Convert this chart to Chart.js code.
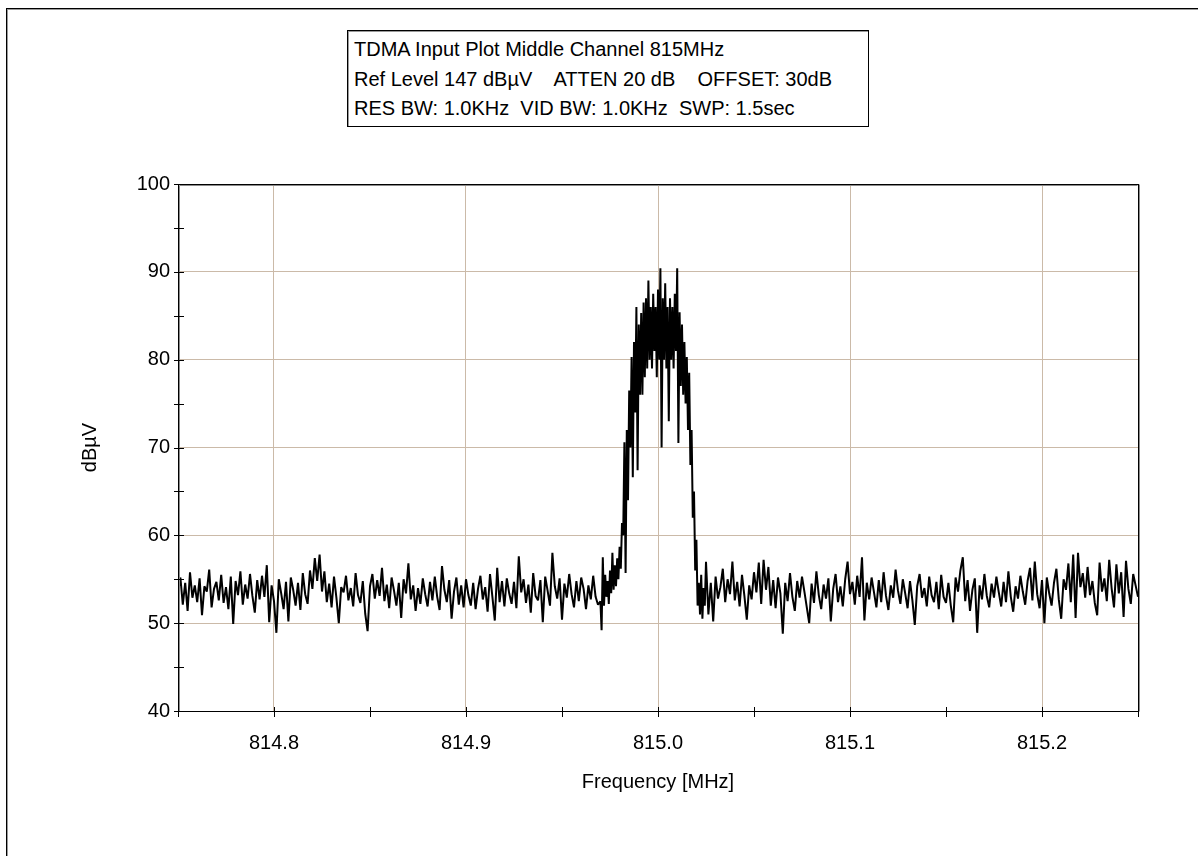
<!DOCTYPE html>
<html>
<head>
<meta charset="utf-8">
<script src="https://cdn.jsdelivr.net/npm/chart.js@4.4.0/dist/chart.umd.min.js"></script>
<style>
html,body{margin:0;padding:0;background:#fff;}
#wrap{position:relative;width:1198px;height:856px;overflow:hidden;background:#fff;}
#frame{position:absolute;left:6px;top:8px;right:-2px;bottom:-2px;border-left:1px solid #000;border-top:1px solid #000;}
#frame2{position:absolute;left:7px;top:9px;right:-2px;bottom:-2px;border-left:1px solid #9a9a9a;border-top:1px solid #9a9a9a;}
#chart{position:absolute;left:0;top:0;}
#info{position:absolute;left:347px;top:30px;width:522px;height:97px;box-sizing:border-box;border:1px solid #000;
  box-shadow:inset 1px 1px 0 #9a9a9a;
  font-family:'Liberation Sans',Arial,sans-serif;font-size:20px;line-height:29.5px;white-space:pre;color:#000;
  padding:4px 0 0 6px;background:#fff;}
</style>
</head>
<body>
<div id="wrap">
  <div id="frame"></div><div id="frame2"></div>
  <canvas id="chart" width="1198" height="856"></canvas>
  <div id="info">TDMA Input Plot Middle Channel 815MHz
Ref Level 147 dBµV    ATTEN 20 dB    OFFSET: 30dB
RES BW: 1.0KHz  VID BW: 1.0KHz  SWP: 1.5sec</div>
</div>
<script>
// ---- data ----
// noise floor left of the carrier: 814.75 MHz onwards, 1.25 kHz per sample
const floorLeftStart = 814.75, floorLeftStep = 0.00125;
const floorLeft = [
 53.5,55.2,52.1,54.6,51.4,55.8,52.9,54.3,52.4,55.1,50.9,54.2,53.6,56.1,51.8,53.9,54.7,52.6,55.5,52.3,
 54.1,51.6,55.3,49.9,54.8,53.2,55.9,52.1,54.4,52.8,55.6,53.1,51.2,54.9,52.7,55.4,53.0,56.6,50.1,54.3,
 52.5,48.9,55.0,53.4,51.6,54.7,50.2,55.2,53.8,52.0,54.6,51.5,55.7,53.3,52.2,56.0,53.9,57.4,54.8,57.8,
 53.6,55.9,52.4,54.5,51.8,55.3,52.9,50.0,54.1,53.5,55.4,52.6,54.0,51.9,55.7,53.2,52.3,54.8,51.1,49.1,
 54.2,55.6,52.8,54.9,53.1,56.3,52.5,54.4,51.7,55.2,53.7,52.0,54.6,50.6,55.0,53.4,56.8,52.7,54.3,51.4,
 54.0,52.2,55.1,53.3,51.9,54.7,52.6,55.3,53.0,51.5,56.5,53.8,52.4,54.9,50.5,53.6,55.2,52.1,54.3,51.8,
 55.0,53.2,52.0,54.6,51.6,53.9,55.4,52.7,54.1,51.3,55.6,53.0,50.3,56.3,52.4,54.8,51.9,55.1,53.4,52.2,
 54.7,51.7,57.6,53.5,55.0,52.3,54.4,51.2,55.7,53.1,52.6,54.9,50.1,55.3,53.7,52.0,58.0,54.2,52.8,55.1,
 50.4,54.5,52.9,55.6,53.3,51.8,54.8,52.5,55.2,53.9,51.6,54.3,52.7,55.4,53.0,52.1
];
// TDMA carrier: 814.97 MHz onwards, finer 0.625 kHz per sample
const carrierStart = 814.97, carrierStep = 0.000625;
const carrier = [
 52.5,49.2,57.5,52.0,55.5,53.0,54.8,52.2,56.0,53.4,
 58.0,53.8,56.6,54.2,57.4,55.0,58.7,56.2,61.4,60.0,
 70.6,55.7,72.0,64.0,76.5,70.0,80.3,66.6,82.0,74.0,
 86.0,67.4,84.0,76.0,85.3,76.0,86.5,78.0,87.0,79.0,
 89.0,80.0,86.0,79.0,87.5,81.0,86.0,78.0,88.0,80.0,
 90.4,70.0,87.0,80.0,88.7,79.0,86.0,73.0,87.0,80.0,
 86.0,79.0,87.5,81.0,90.4,70.5,85.4,77.0,84.0,76.0,
 82.0,75.0,80.3,72.0,78.5,68.0,72.0,62.0,65.0,56.0,
 59.5,52.0,54.6,51.0,55.5,50.5,54.0,52.0,57.0
];
// noise floor right of the carrier: 815.02625 MHz onwards, 1.25 kHz per sample
const floorRightStart = 815.02625, floorRightStep = 0.00125;
const floorRight = [
 51.0,54.6,50.2,55.3,52.8,54.1,56.2,52.4,55.0,53.3,57.0,52.6,54.7,51.9,55.5,53.1,50.4,54.3,52.7,55.8,
 53.5,56.9,52.2,57.2,53.8,56.4,52.0,54.9,51.7,55.2,53.4,48.8,54.6,52.5,55.7,53.0,51.4,54.8,52.9,55.3,
 53.6,51.8,50.0,54.5,52.3,55.9,53.2,51.6,54.4,52.8,55.1,50.2,53.9,55.6,52.4,54.2,51.9,55.0,57.0,53.3,
 54.7,52.1,55.4,53.0,57.5,50.3,54.6,52.7,55.2,53.5,51.8,54.9,52.4,55.8,53.1,51.5,54.3,52.9,56.1,53.7,
 52.2,55.0,53.4,51.7,54.8,52.6,49.8,54.2,55.6,52.9,54.0,51.9,55.3,53.2,52.4,54.7,51.6,55.5,53.0,52.3,
 54.6,52.0,50.1,55.2,53.6,56.0,57.5,52.5,54.9,51.4,53.8,55.1,48.9,54.3,52.7,55.6,53.1,51.8,54.5,52.9,
 55.3,53.5,51.9,54.7,52.4,55.9,53.0,51.3,54.2,52.8,55.4,53.6,52.1,54.8,56.3,52.6,57.0,53.3,51.7,54.9,
 50.0,55.2,53.4,52.0,54.6,56.2,52.7,50.5,55.0,53.8,56.8,52.4,57.8,50.6,58.0,54.1,55.7,52.9,56.4,53.2,
 54.8,52.3,50.9,56.9,53.6,55.1,52.5,57.2,54.0,51.8,56.7,53.4,55.8,50.7,57.1,53.9,52.2,55.6,54.3,53.0
];

const xTickValues = [814.75,814.8,814.85,814.9,814.95,815.0,815.05,815.1,815.15,815.2,815.25];
const xTickLabels = ['','814.8','','814.9','','815.0','','815.1','','815.2',''];
const yTickValues = [40,45,50,55,60,65,70,75,80,85,90,95,100];
const yTickLabels = ['40','','50','','60','','70','','80','','90','','100'];

const xTitle = 'Frequency [MHz]';
const yTitle = 'dBµV';

// ---- build ----
function toPoints(start, step, values) {
  return values.map((v, i) => ({ x: start + i * step, y: v }));
}
const points = [].concat(
  toPoints(floorLeftStart, floorLeftStep, floorLeft),
  toPoints(carrierStart, carrierStep, carrier),
  toPoints(floorRightStart, floorRightStep, floorRight)
);

const FONT = "'Liberation Sans', Arial, sans-serif";
const GRID = '#cbbaa8';

const framePlugin = {
  id: 'frame',
  afterDraw(chart) {
    const { ctx, chartArea: a, scales: { x, y } } = chart;
    const L = Math.round(a.left), R = Math.round(a.right), T = Math.round(a.top), B = Math.round(a.bottom);
    ctx.save();
    ctx.strokeStyle = '#000';
    ctx.lineWidth = 1;
    ctx.strokeRect(L + 0.5, T + 0.5, R - L, B - T);
    ctx.strokeStyle = '#8a8a8a';
    ctx.beginPath();
    ctx.moveTo(L + 1.5, B + 0.5); ctx.lineTo(L + 1.5, T + 1.5); ctx.lineTo(R - 0.5, T + 1.5);
    ctx.moveTo(R + 1.5, T + 0.5); ctx.lineTo(R + 1.5, B + 0.5);
    ctx.stroke();
    ctx.strokeStyle = '#000';
    ctx.beginPath();
    x.ticks.forEach(t => {
      const px = Math.round(x.getPixelForValue(t.value)) + 0.5;
      ctx.moveTo(px, B - 4); ctx.lineTo(px, B + 6);
    });
    y.ticks.forEach(t => {
      const py = Math.round(y.getPixelForValue(t.value)) + 0.5;
      ctx.moveTo(L - 4, py); ctx.lineTo(L + 6, py);
    });
    ctx.stroke();
    ctx.fillStyle = '#000';
    ctx.font = '20px ' + FONT;
    ctx.textAlign = 'center';
    ctx.textBaseline = 'middle';
    ctx.fillText(xTitle, (a.left + a.right) / 2, 782);
    ctx.translate(90, (a.top + a.bottom) / 2);
    ctx.rotate(-Math.PI / 2);
    ctx.fillText(yTitle, 0, 0);
    ctx.restore();
  }
};

new Chart(document.getElementById('chart'), {
  type: 'line',
  data: {
    datasets: [{
      data: points,
      borderColor: '#000',
      borderWidth: 2,
      borderJoinStyle: 'bevel',
      pointRadius: 0,
      tension: 0,
      fill: false
    }]
  },
  options: {
    responsive: false,
    animation: false,
    devicePixelRatio: 1,
    layout: { padding: { top: 184, right: 60, left: 0, bottom: 0 } },
    plugins: { legend: { display: false }, tooltip: { enabled: false }, title: { display: false } },
    scales: {
      x: {
        type: 'linear',
        min: 814.75, max: 815.25,
        afterBuildTicks: s => { s.ticks = xTickValues.map(v => ({ value: v })); },
        afterFit: s => { s.height = 145; },
        ticks: {
          autoSkip: false, maxRotation: 0, minRotation: 0, padding: 20, color: '#000',
          font: { family: FONT, size: 20 },
          callback: (v, i) => xTickLabels[i]
        },
        grid: {
          drawTicks: false, lineWidth: 1,
          color: c => (c.tick && xTickLabels[xTickValues.indexOf(c.tick.value)]) ? GRID : 'rgba(0,0,0,0)'
        },
        border: { display: false }
      },
      y: {
        type: 'linear',
        min: 40, max: 100,
        afterBuildTicks: s => { s.ticks = yTickValues.map(v => ({ value: v })); },
        afterFit: s => { s.width = 178; },
        ticks: {
          autoSkip: false, padding: 8, color: '#000',
          font: { family: FONT, size: 20 },
          callback: (v, i) => yTickLabels[i]
        },
        grid: {
          drawTicks: false, lineWidth: 1,
          color: c => (c.tick && yTickLabels[yTickValues.indexOf(c.tick.value)] && c.tick.value !== 40 && c.tick.value !== 100) ? GRID : 'rgba(0,0,0,0)'
        },
        border: { display: false }
      }
    }
  },
  plugins: [framePlugin]
});
</script>
</body>
</html>
